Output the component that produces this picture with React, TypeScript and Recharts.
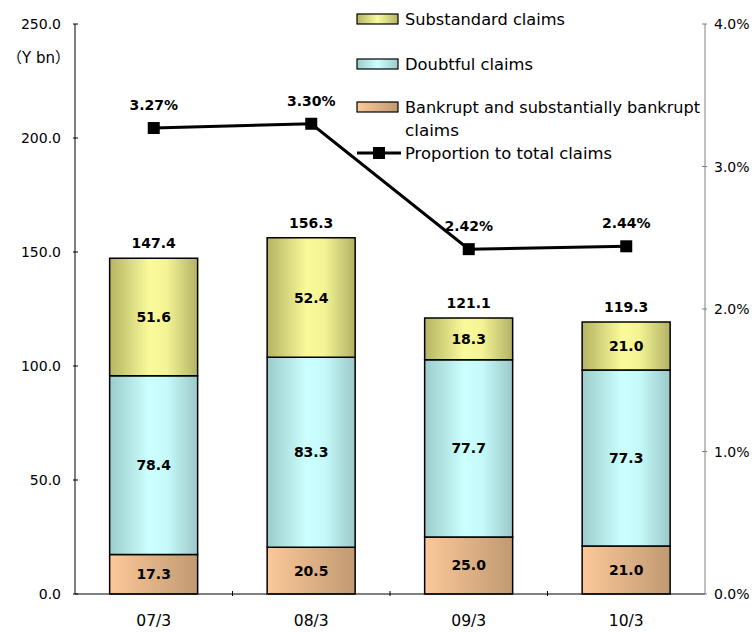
import React from "react";
import {
  ComposedChart,
  Bar,
  Line,
  XAxis,
  YAxis,
  LabelList,
} from "recharts";

// Fiscal year-ends
const categories = ["07/3", "08/3", "09/3", "10/3"];
// Claim amounts, Y bn
const bankrupt = [17.3, 20.5, 25.0, 21.0];
const doubtful = [78.4, 83.3, 77.7, 77.3];
const substandard = [51.6, 52.4, 18.3, 21.0];
const totals = [147.4, 156.3, 121.1, 119.3];
// Proportion to total claims, %
const proportion = [3.27, 3.3, 2.42, 2.44];

const leftTicks = [0, 50, 100, 150, 200, 250];
const rightTicks = [0, 1, 2, 3, 4];

const data = categories.map((c, i) => ({
  name: c,
  bankrupt: bankrupt[i],
  doubtful: doubtful[i],
  substandard: substandard[i],
  total: totals[i],
  proportion: proportion[i],
}));

const FONT = "'DejaVu Sans', 'Noto Sans CJK JP', sans-serif";

const LeftTick = (props: any) => {
  const { x, y, payload } = props;
  return (
    <g>
      <line x1={x} x2={x + 5} y1={y} y2={y} stroke="#000" />
      <text x={x - 12} y={y} dy={5} textAnchor="end" fontSize={14} fontFamily={FONT} fill="#000">
        {Number(payload.value).toFixed(1)}
      </text>
    </g>
  );
};

const RightTick = (props: any) => {
  const { x, y, payload } = props;
  return (
    <g>
      <line x1={x} x2={x - 5} y1={y} y2={y} stroke="#808080" />
      <text x={x + 7} y={y} dy={5} textAnchor="start" fontSize={14} fontFamily={FONT} fill="#000">
        {Number(payload.value).toFixed(1) + "%"}
      </text>
    </g>
  );
};

const BottomTick = (props: any) => {
  const { x, y, payload, index } = props;
  const half = payload.offset || 0;
  return (
    <g>
      {index > 0 && (
        <line x1={x - half} x2={x - half} y1={y} y2={y - 5} stroke="#000" />
      )}
      <text
        x={x}
        y={y + 30}
        textAnchor="middle"
        fontSize={15}
        fontFamily={FONT}
        fill="#000"
        textLength={35}
        lengthAdjust="spacingAndGlyphs"
      >
        {payload.value}
      </text>
    </g>
  );
};

const Swatch = ({ x, y, grad }: { x: number; y: number; grad: string }) => (
  <rect x={x} y={y} width={41} height={10} fill={`url(#${grad})`} stroke="#000" strokeWidth={1.2} />
);

const LegendText = ({ y, w, children }: { y: number; w: number; children: string }) => (
  <text x={49} y={y} textLength={w} lengthAdjust="spacingAndGlyphs">
    {children}
  </text>
);

const LegendBox = () => (
  <svg
    width={380}
    height={170}
    style={{ position: "absolute", left: 356, top: 5, display: "block" }}
  >
    <defs>
      <linearGradient id="lgY" x1="0" x2="1" y1="0" y2="0">
        <stop offset="0" stopColor="#b4b464" />
        <stop offset="0.5" stopColor="#fafa9a" />
        <stop offset="1" stopColor="#b4b464" />
      </linearGradient>
      <linearGradient id="lgC" x1="0" x2="1" y1="0" y2="0">
        <stop offset="0" stopColor="#9ccccc" />
        <stop offset="0.5" stopColor="#ccffff" />
        <stop offset="1" stopColor="#9ccccc" />
      </linearGradient>
      <linearGradient id="lgP" x1="0" x2="1" y1="0" y2="0">
        <stop offset="0" stopColor="#fcc898" />
        <stop offset="1" stopColor="#c09a72" />
      </linearGradient>
    </defs>
    <g fontFamily={FONT} fontSize={15} fill="#000">
      <Swatch x={1} y={9} grad="lgY" />
      <LegendText y={20} w={160}>Substandard claims</LegendText>
      <Swatch x={1} y={54} grad="lgC" />
      <LegendText y={65} w={128}>Doubtful claims</LegendText>
      <Swatch x={1} y={97} grad="lgP" />
      <LegendText y={108} w={295}>Bankrupt and substantially bankrupt</LegendText>
      <LegendText y={131} w={54}>claims</LegendText>
      <line x1={1} x2={45} y1={148} y2={148} stroke="#000" strokeWidth={3} />
      <rect x={17} y={142} width={12} height={12} fill="#000" />
      <LegendText y={154} w={207}>Proportion to total claims</LegendText>
    </g>
  </svg>
);

const renderTotal = (props: any) => {
  const { x, y, width, index } = props;
  return (
    <text
      x={x + width / 2}
      y={y - 10}
      textAnchor="middle"
      fontSize={14}
      fontWeight="bold"
      fontFamily={FONT}
      fill="#000"
    >
      {totals[index].toFixed(1)}
    </text>
  );
};

const renderPct = (props: any) => {
  const { x, y, value } = props;
  return (
    <text x={x} y={y - 18} textAnchor="middle" fontSize={14} fontWeight="bold" fontFamily={FONT} fill="#000">
      {Number(value).toFixed(2) + "%"}
    </text>
  );
};

const SquareDot = (props: any) => {
  const { cx, cy } = props;
  if (cx == null || cy == null) return null;
  return <rect x={cx - 6} y={cy - 6} width={12} height={12} fill="#000" />;
};

const segLabel = {
  position: "center" as const,
  fontSize: 14,
  fontWeight: "bold",
  fontFamily: FONT,
  fill: "#000",
  formatter: (v: any) => Number(v).toFixed(1),
};

export default function App() {
  return (
    <div style={{ position: "absolute", left: 0, top: 0, width: 754, height: 633, background: "#fff" }}>
      <ComposedChart
        width={754}
        height={633}
        data={data}
        margin={{ top: 24, right: 0, bottom: 0, left: 15 }}
        barCategoryGap="22%"
      >
        <defs>
          <linearGradient id="gY" x1="0" x2="1" y1="0" y2="0">
            <stop offset="0" stopColor="#b4b464" />
            <stop offset="0.45" stopColor="#fafa9a" />
            <stop offset="0.65" stopColor="#f4f494" />
            <stop offset="1" stopColor="#b2b266" />
          </linearGradient>
          <linearGradient id="gC" x1="0" x2="1" y1="0" y2="0">
            <stop offset="0" stopColor="#9ccccc" />
            <stop offset="0.45" stopColor="#ccffff" />
            <stop offset="0.65" stopColor="#c6fafa" />
            <stop offset="1" stopColor="#9cc8c8" />
          </linearGradient>
          <linearGradient id="gP" x1="0" x2="1" y1="0" y2="0">
            <stop offset="0" stopColor="#fcc898" />
            <stop offset="1" stopColor="#c09a72" />
          </linearGradient>
        </defs>
        <XAxis
          dataKey="name"
          height={39}
          axisLine={{ stroke: "#000" }}
          tickLine={false}
          tickSize={0}
          tick={<BottomTick />}
          interval={0}
        />
        <YAxis
          yAxisId="left"
          width={60}
          domain={[0, 250]}
          ticks={leftTicks}
          axisLine={{ stroke: "#000" }}
          tickLine={false}
          tickSize={0}
          tick={<LeftTick />}
          interval={0}
        />
        <YAxis
          yAxisId="right"
          orientation="right"
          width={49}
          domain={[0, 4]}
          ticks={rightTicks}
          axisLine={{ stroke: "#808080" }}
          tickLine={false}
          tickSize={0}
          tick={<RightTick />}
          interval={0}
        />
        <Bar dataKey="bankrupt" stackId="a" yAxisId="left" fill="url(#gP)" stroke="#000" strokeWidth={1.5} isAnimationActive={false}>
          <LabelList dataKey="bankrupt" {...segLabel} />
        </Bar>
        <Bar dataKey="doubtful" stackId="a" yAxisId="left" fill="url(#gC)" stroke="#000" strokeWidth={1.5} isAnimationActive={false}>
          <LabelList dataKey="doubtful" {...segLabel} />
        </Bar>
        <Bar dataKey="substandard" stackId="a" yAxisId="left" fill="url(#gY)" stroke="#000" strokeWidth={1.5} isAnimationActive={false}>
          <LabelList dataKey="substandard" {...segLabel} />
          <LabelList dataKey="total" content={renderTotal} />
        </Bar>
        <Line
          dataKey="proportion"
          yAxisId="right"
          stroke="#000"
          strokeWidth={3}
          dot={<SquareDot />}
          activeDot={false}
          isAnimationActive={false}
        >
          <LabelList dataKey="proportion" content={renderPct} />
        </Line>
        <text x={7} y={63} fontSize={15} fontFamily={FONT} fill="#000">
          （Y bn）
        </text>
      </ComposedChart>
      <LegendBox />
    </div>
  );
}
